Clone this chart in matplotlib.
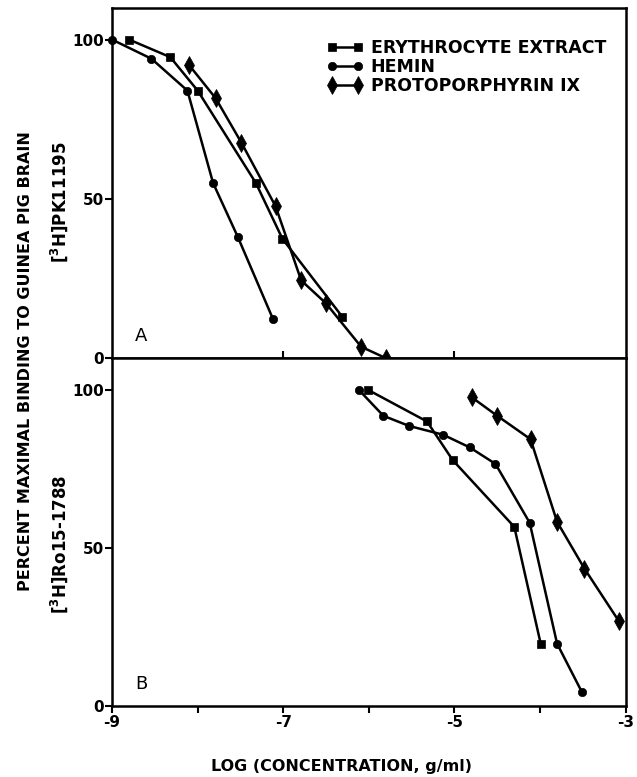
"""
 displacement curves of [3H]PK11195 and [3H]Ro15-1788 binding
 by erythrocyte extract, hemin and protoporphyrin IX
"""

import matplotlib
matplotlib.use('Agg')
import matplotlib.pyplot as plt

# panel A : [3H]PK11195
ery_a_x = [-8.80, -8.32, -8.00, -7.32, -7.01, -6.31]
ery_a_y = [100, 94.5, 84, 55, 37.5, 13]
hem_a_x = [-9.00, -8.54, -8.12, -7.82, -7.53, -7.12]
hem_a_y = [100, 94, 84, 55, 38, 12.3]
pro_a_x = [-8.10, -7.79, -7.49, -7.09, -6.79, -6.50, -6.09, -5.80]
pro_a_y = [92, 81.6, 67.7, 47.7, 24.4, 17.2, 3.6, 0]

# panel B : [3H]Ro15-1788
ery_b_x = [-6.01, -5.32, -5.02, -4.30, -3.99]
ery_b_y = [100, 90, 77.8, 56.7, 19.6]
hem_b_x = [-6.11, -5.83, -5.53, -5.13, -4.82, -4.52, -4.12, -3.80, -3.51]
hem_b_y = [99.8, 91.8, 88.6, 85.8, 81.8, 76.6, 58, 19.8, 4.5]
pro_b_x = [-4.80, -4.50, -4.11, -3.80, -3.48, -3.08]
pro_b_y = [97.7, 91.8, 84.4, 58.3, 43.5, 27]

xticks = [-9, -8, -7, -6, -5, -4, -3]
xticklabels = ['-9', '', '-7', '', '-5', '', '-3']
yticks = [0, 50, 100]
labels = ['ERYTHROCYTE EXTRACT', 'HEMIN', 'PROTOPORPHYRIN IX']


def draw_series(ax, x, y, marker, ms, label=None):
    ax.plot(x, y, '-', color='black', lw=1.8, marker=marker, ms=ms, mew=0.5,
            mfc='black', mec='black', clip_on=False, label=label)


def setup_axis(ax):
    ax.set_xlim(-9, -3)
    ax.set_ylim(0, 110)
    ax.set_yticks(yticks)
    ax.set_yticklabels([str(v) for v in yticks], fontweight='bold', fontsize=11)
    ax.tick_params(axis='y', direction='out', length=5, width=1.5, pad=1)
    for sp in ax.spines.values():
        sp.set_linewidth(1.8)


def main():
    plt.rcParams['font.family'] = ['DejaVu Sans']

    fig = plt.figure(figsize=(6.37, 7.77), dpi=100)
    axa = fig.add_axes([0.176, 0.539, 0.806, 0.451])
    axb = fig.add_axes([0.176, 0.091, 0.806, 0.448])

    # panel A
    draw_series(axa, ery_a_x, ery_a_y, 's', 6, labels[0])
    draw_series(axa, hem_a_x, hem_a_y, 'o', 6, labels[1])
    draw_series(axa, pro_a_x, pro_a_y, 'd', 9, labels[2])
    setup_axis(axa)
    axa.set_xticks([-7, -5])
    axa.set_xticklabels([])
    axa.tick_params(axis='x', direction='in', length=5, width=1.5)
    axa.text(0.045, 0.05, 'A', transform=axa.transAxes, fontsize=13)
    axa.legend(loc='upper left', bbox_to_anchor=(0.402, 0.935), frameon=False,
               borderpad=0, handlelength=2.1, handletextpad=0.4, labelspacing=0.05,
               numpoints=2, prop={'weight': 'bold', 'size': 12.5})

    # panel B
    draw_series(axb, ery_b_x, ery_b_y, 's', 6)
    draw_series(axb, hem_b_x, hem_b_y, 'o', 6)
    draw_series(axb, pro_b_x, pro_b_y, 'd', 9)
    setup_axis(axb)
    axb.set_xticks(xticks)
    axb.set_xticklabels(xticklabels, fontweight='bold', fontsize=11)
    axb.tick_params(axis='x', direction='out', length=5, width=1.5, pad=1)
    axb.text(0.045, 0.05, 'B', transform=axb.transAxes, fontsize=13)

    # axis titles
    fig.text(0.536, 0.013, 'LOG (CONCENTRATION, g/ml)', ha='center', va='center',
             fontweight='bold', fontsize=11.5)
    fig.text(0.040, 0.535, 'PERCENT MAXIMAL BINDING TO GUINEA PIG BRAIN', rotation=90,
             ha='center', va='center', fontweight='bold', fontsize=11.5)
    fig.text(0.093, 0.740, '[$^{\\mathbf{3}}$H]PK11195', rotation=90,
             ha='center', va='center', fontweight='bold', fontsize=12)
    fig.text(0.093, 0.299, '[$^{\\mathbf{3}}$H]Ro15-1788', rotation=90,
             ha='center', va='center', fontweight='bold', fontsize=12)

    fig.savefig('out.png', dpi=100)


if __name__ == '__main__':
    main()
